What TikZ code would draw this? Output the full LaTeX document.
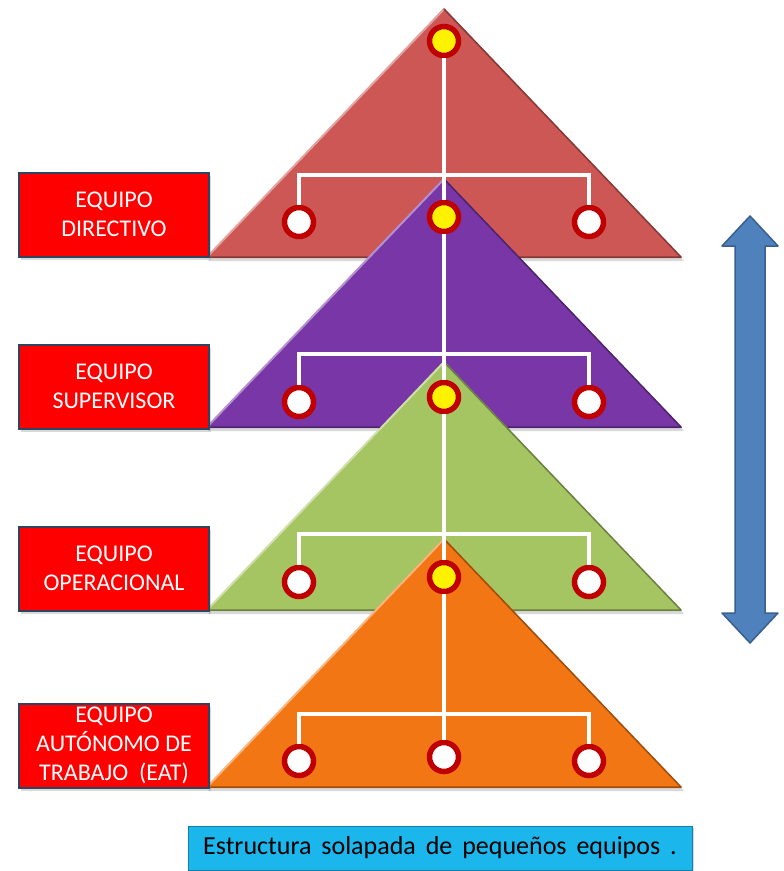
\documentclass[tikz,border=0pt]{standalone}
\usepackage{fontspec}
\setmainfont{Carlito}
\usetikzlibrary{shadows}

\definecolor{redtri}{HTML}{CC5754}
\definecolor{purpletri}{HTML}{7836A6}
\definecolor{greentri}{HTML}{A5C462}
\definecolor{orangetri}{HTML}{F27613}
\definecolor{ring}{HTML}{C00000}
\definecolor{boxred}{HTML}{FF0000}
\definecolor{boxline}{HTML}{2F4460}
\definecolor{arrowblue}{HTML}{4F81BD}
\definecolor{arrowline}{HTML}{3A5F8F}
\definecolor{capblue}{HTML}{1BB6EC}

\begin{document}
\begin{tikzpicture}[x=1pt,y=-1pt,
  member/.style={circle, draw=ring, line width=5.5pt, minimum size=29pt, inner sep=0pt, fill=white},
  boss/.style={member, fill=yellow},
  link/.style={white, line width=4pt},
  team/.style={rectangle, fill=boxred, draw=boxline, line width=2pt, text=white,
    minimum width=190pt, minimum height=84pt, inner sep=0pt, align=center,
    font=\fontsize{24}{29}\selectfont,
    drop shadow={opacity=0.3, shadow xshift=2pt, shadow yshift=-3pt}}]
\useasboundingbox (0,0) rectangle (784,871);

% triangles, one per level
\foreach \ap/\col in {8/redtri, 178/purpletri, 361/greentri, 538/orangetri} {
  \fill[\col, drop shadow={opacity=0.3, shadow xshift=2pt, shadow yshift=-3pt}]
        (444,\ap) -- (682,\ap+250) -- (206,\ap+250) -- cycle;
  \draw[\col!55!white, line width=2pt] (207,\ap+249) -- (444,\ap+1);
  \draw[\col!65!black, line width=1.5pt, line join=round]
        (444,\ap+1) -- (681,\ap+249) -- (207,\ap+249);
}

% team labels
\node[team] (dir) at (114,214.5) {EQUIPO\\DIRECTIVO};
\node[team] (sup) at (114,386.5) {EQUIPO\\SUPERVISOR};
\node[team] (ope) at (114,568.5) {EQUIPO\\OPERACIONAL};
\node[team] (eat) at (114,745.5) {EQUIPO\\AUTÓNOMO DE\\TRABAJO\ \ (EAT)};

% circles of every tree
\foreach \i/\yy/\bb/\ww in {1/41/175/222, 2/217/354/402, 3/397/534/582, 4/577/714/761} {
  \node[boss] (y\i) at (444,\yy) {};
  \node[member] (l\i) at (299,\ww) {};
  \node[member] (r\i) at (589,\ww) {};
  \coordinate (bar\i) at (444,\bb);
}
\node[member] (m4) at (444,757) {};

% connectors
\foreach \i in {1,...,4}
  \draw[link] (l\i) |- (bar\i) -| (r\i);
\draw[link] (y1) -- (y2);
\draw[link] (y2) -- (y3);
\draw[link] (y3) -- (y4);
\draw[link] (y4) -- (m4);

% double arrow on the right
\filldraw[fill=arrowblue, draw=arrowline, line width=1.5pt, line join=round]
  (750,216) -- (778,246) -- (765,246) -- (765,613) -- (778,613) -- (750,643)
  -- (722,613) -- (735,613) -- (735,246) -- (722,246) -- cycle;

% caption
\node[rectangle, fill=capblue, draw=capblue!70!black, line width=1pt,
      minimum width=504pt, minimum height=44pt, inner sep=0pt,
      font=\fontsize{26}{30}\selectfont,
      drop shadow={opacity=0.3, shadow xshift=2pt, shadow yshift=-2pt}]
  (cap) at (440,848) {\spaceskip=0.38em Estructura solapada de pequeños equipos .};
\end{tikzpicture}
\end{document}
